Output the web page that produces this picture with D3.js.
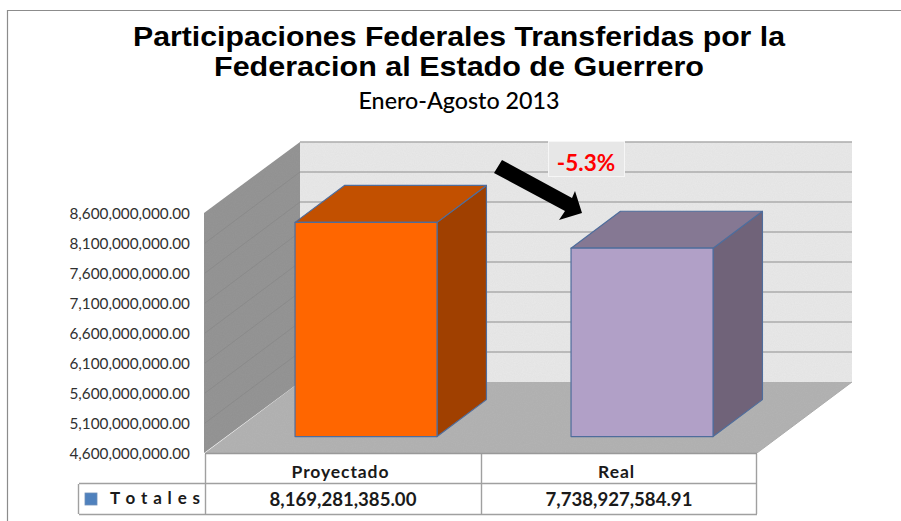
<!DOCTYPE html>
<html>
<head>
<meta charset="utf-8">
<script src="https://cdn.jsdelivr.net/npm/d3@7"></script>
<style>
html, body { margin: 0; padding: 0; background: #fff; }
svg { display: block; }
text { font-family: Lato, "Open Sans", sans-serif; }
</style>
</head>
<body>
<div id="chart"></div>
<script>
var categories = ["Proyectado", "Real"];
var values = [8169281385.00, 7738927584.91];
var valueLabels = ["8,169,281,385.00", "7,738,927,584.91"];
var tickValues = [4600000000, 5100000000, 5600000000, 6100000000, 6600000000, 7100000000, 7600000000, 8100000000, 8600000000];
var titleLines = ["Participaciones Federales Transferidas por la", "Federacion al Estado de Guerrero"];
var titleWidths = [652, 490];
var subtitle = "Enero-Agosto 2013";
var seriesName = "T o t a l e s";
var changeLabel = "-5.3%";

var barFront = ["#ff6600", "#b1a0c7"];
var barTop = ["#c25000", "#857893"];
var barSide = ["#a04000", "#706379"];

var svg = d3.select("#chart").append("svg")
	.attr("width", 901)
	.attr("height", 521);

// plot box: front face of the 3d box, with depth going up and right
var frontLeft = 205, frontRight = 757, floorY = 453, wallHeight = 240;
var depthX = 95, depthY = -71;

var y = d3.scaleLinear().domain([4600000000, 8600000000]).range([floorY, floorY - wallHeight]);
var x = d3.scaleBand().domain(categories).range([frontLeft, frontRight]).paddingInner(0).paddingOuter(0);

var poly = function(points) {
	return points.map(function(p) { return p.join(","); }).join(" ");
};

// wall textures are only a faint grain in the picture
var defs = svg.append("defs");
var grain = defs.append("filter").attr("id", "grain").attr("x", 0).attr("y", 0).attr("width", 1).attr("height", 1);
grain.append("feTurbulence").attr("type", "fractalNoise").attr("baseFrequency", 0.9).attr("numOctaves", 2).attr("seed", 3).attr("result", "n");
grain.append("feColorMatrix").attr("in", "n").attr("type", "matrix")
	.attr("values", "0 0 0 0 0  0 0 0 0 0  0 0 0 0 0  0 0 0 0.07 0").attr("result", "d");
grain.append("feComposite").attr("in", "d").attr("in2", "SourceAlpha").attr("operator", "in").attr("result", "c");
var grainMerge = grain.append("feMerge");
grainMerge.append("feMergeNode").attr("in", "SourceGraphic");
grainMerge.append("feMergeNode").attr("in", "c");

// outer frame
svg.append("path").attr("d", "M7.5,521V10.5H901").attr("fill", "none").attr("stroke", "#8c8c8c").attr("stroke-width", 1.2);

// back wall
var backY = function(v) { return y(v) + depthY; };
svg.append("polygon")
	.attr("points", poly([[frontLeft + depthX, backY(8600000000)], [frontRight + depthX, backY(8600000000)], [frontRight + depthX, floorY + depthY], [frontLeft + depthX, floorY + depthY]]))
	.attr("fill", "#e9e9e9").attr("filter", "url(#grain)");

svg.selectAll(".grid").data(tickValues.slice(1)).enter().append("line")
	.attr("class", "grid")
	.attr("x1", frontLeft + depthX).attr("x2", frontRight + depthX)
	.attr("y1", backY).attr("y2", backY)
	.attr("stroke", "#ababab").attr("stroke-width", 1.4);

// side wall
svg.append("polygon")
	.attr("points", poly([[frontLeft - 1, y(8600000000)], [frontLeft + depthX, backY(8600000000)], [frontLeft + depthX, floorY + depthY], [frontLeft - 1, floorY]]))
	.attr("fill", "#959595").attr("filter", "url(#grain)");

svg.selectAll(".sidegrid").data(tickValues.slice(1, -1)).enter().append("line")
	.attr("class", "sidegrid")
	.attr("x1", frontLeft).attr("x2", frontLeft + depthX)
	.attr("y1", y).attr("y2", backY)
	.attr("stroke", "#8a8a8a").attr("stroke-width", 1);

// floor
svg.append("polygon")
	.attr("points", poly([[frontLeft, floorY], [frontLeft + depthX, floorY + depthY], [frontRight + depthX, floorY + depthY], [frontRight, floorY]]))
	.attr("fill", "#b4b4b4").attr("filter", "url(#grain)");

// bars sit part way into the floor
var barDepth = 0.52;
var barShift = 0.232;
var barWidth = 142;

var bars = svg.selectAll(".bar").data(values).enter().append("g").attr("class", "bar");

var barGeom = function(d, i) {
	var cx = x(categories[i]) + x.bandwidth() / 2 + depthX * barShift + 1;
	var lift = -depthY * barShift;
	return {
		x0: cx - barWidth / 2,
		x1: cx + barWidth / 2,
		bottom: floorY - lift,
		top: y(d) - lift,
		dx: depthX * barDepth,
		dy: depthY * barDepth
	};
};

bars.append("polygon")
	.attr("points", function(d, i) {
		var g = barGeom(d, i);
		return poly([[g.x1, g.top], [g.x1 + g.dx, g.top + g.dy], [g.x1 + g.dx, g.bottom + g.dy], [g.x1, g.bottom]]);
	})
	.attr("fill", function(d, i) { return barSide[i]; });

bars.append("polygon")
	.attr("points", function(d, i) {
		var g = barGeom(d, i);
		return poly([[g.x0, g.top], [g.x0 + g.dx, g.top + g.dy], [g.x1 + g.dx, g.top + g.dy], [g.x1, g.top]]);
	})
	.attr("fill", function(d, i) { return barTop[i]; });

bars.append("rect")
	.attr("x", function(d, i) { return barGeom(d, i).x0; })
	.attr("y", function(d, i) { return barGeom(d, i).top; })
	.attr("width", barWidth)
	.attr("height", function(d, i) { var g = barGeom(d, i); return g.bottom - g.top; })
	.attr("fill", function(d, i) { return barFront[i]; });

bars.selectAll("polygon, rect")
	.attr("stroke", "#4f6d9c").attr("stroke-width", 1.2).attr("stroke-linejoin", "round");

// y axis labels
svg.selectAll(".tick-label").data(tickValues).enter().append("text")
	.attr("class", "tick-label")
	.attr("x", 190)
	.attr("y", function(d) { return y(d) + 6; })
	.attr("text-anchor", "end")
	.attr("font-size", 15.3)
	.attr("fill", "#303030")
	.text(d3.format(",.2f"));

// titles
svg.selectAll(".title").data(titleLines).enter().append("text")
	.attr("class", "title")
	.attr("x", 459)
	.attr("y", function(d, i) { return 46 + i * 30; })
	.attr("text-anchor", "middle")
	.attr("font-size", 26.8)
	.attr("font-weight", 700)
	.attr("textLength", function(d, i) { return titleWidths[i]; })
	.attr("lengthAdjust", "spacingAndGlyphs")
	.style("font-family", "'Liberation Sans', sans-serif")
	.attr("fill", "#000")
	.text(function(d) { return d; });

svg.append("text")
	.attr("x", 459).attr("y", 109)
	.attr("text-anchor", "middle")
	.attr("font-size", 22.5)
	.attr("font-weight", 500)
	.attr("textLength", 201)
	.attr("lengthAdjust", "spacingAndGlyphs")
	.attr("fill", "#000")
	.text(subtitle);

// arrow and change label
svg.append("polygon")
	.attr("points", "502,160 494,173 565,211 559,220 582,213 575,191 572,198")
	.attr("fill", "#000");

svg.append("rect")
	.attr("x", 548.5).attr("y", 141.5).attr("width", 76).attr("height", 35)
	.attr("fill", "#e7e7e7").attr("stroke", "#f6f6f6").attr("stroke-width", 1);

svg.append("text")
	.attr("x", 586).attr("y", 171)
	.attr("text-anchor", "middle")
	.attr("font-size", 22.5)
	.attr("font-weight", 700)
	.attr("fill", "#ff0000")
	.text(changeLabel);

// data table under the plot
var tableEdges = [206, 482, 757];
var rowTop = 454, rowMid = 484, rowBottom = 514, legendLeft = 79;
var tableStroke = "#a0a0a0";

svg.append("path")
	.attr("d", "M" + legendLeft + "," + (rowMid - 0.5) + "H" + tableEdges[2]
		+ "M" + legendLeft + "," + (rowBottom + 0.5) + "H" + tableEdges[2]
		+ "M" + (legendLeft - 0.5) + "," + rowMid + "V" + rowBottom
		+ tableEdges.map(function(e) { return "M" + (e - 0.5) + "," + rowTop + "V" + rowBottom; }).join(""))
	.attr("fill", "none").attr("stroke", tableStroke).attr("stroke-width", 1.4);

svg.append("line")
	.attr("x1", frontLeft).attr("x2", frontRight)
	.attr("y1", floorY + 0.5).attr("y2", floorY + 0.5)
	.attr("stroke", "#999").attr("stroke-width", 1.6);

svg.append("line")
	.attr("x1", frontRight).attr("x2", frontRight + depthX)
	.attr("y1", floorY).attr("y2", floorY + depthY)
	.attr("stroke", "#aaa").attr("stroke-width", 1);

svg.selectAll(".cat").data(categories).enter().append("text")
	.attr("class", "cat")
	.attr("x", function(d) { return x(d) + x.bandwidth() / 2 - 2.5; })
	.attr("y", 478)
	.attr("text-anchor", "middle")
	.attr("font-size", 17.5)
	.attr("font-weight", 700)
	.attr("letter-spacing", 0.9)
	.attr("fill", "#1a1a1a")
	.text(function(d) { return d; });

svg.selectAll(".val").data(valueLabels).enter().append("text")
	.attr("class", "val")
	.attr("x", function(d, i) { return x(categories[i]) + x.bandwidth() / 2; })
	.attr("y", 506)
	.attr("text-anchor", "middle")
	.attr("font-size", 18.6)
	.attr("font-weight", 700)
	.attr("fill", "#1a1a1a")
	.text(function(d) { return d; });

svg.append("rect")
	.attr("x", 85).attr("y", 493).attr("width", 12).attr("height", 12)
	.attr("fill", "#4f81bd").attr("stroke", "#6f8fb8").attr("stroke-width", 0.8);

svg.append("text")
	.attr("x", 110).attr("y", 504)
	.attr("font-size", 17)
	.attr("font-weight", 700)
	.attr("textLength", 90)
	.attr("fill", "#1a1a1a")
	.text(seriesName);
</script>
</body>
</html>
